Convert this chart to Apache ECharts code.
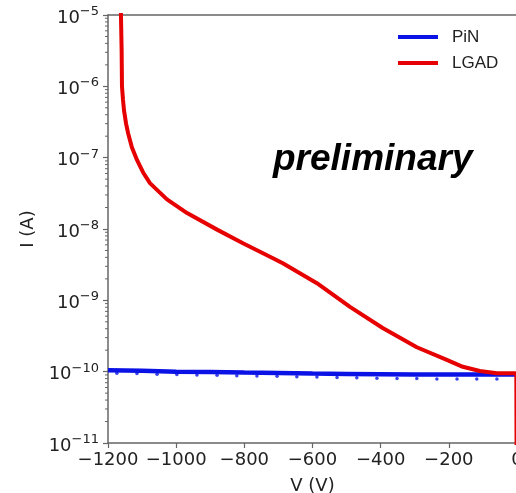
<!DOCTYPE html>
<html>
<head>
<meta charset="utf-8">
<script src="https://cdn.jsdelivr.net/npm/echarts@6/dist/echarts.min.js"></script>
<style>html,body{margin:0;padding:0;background:#fff;}#c{width:516px;height:493px;}</style>
</head>
<body>
<div id="c"></div>
<script>
// Data
const seriesNames = ['PiN', 'LGAD'];
const xTicks = [-1200, -1000, -800, -600, -400, -200, 0];
const yDecades = [1e-11, 1e-10, 1e-9, 1e-8, 1e-7, 1e-6, 1e-5];

const pinV = [-1200, -1100, -1000, -900, -800, -700, -600, -500, -400, -300, -200, -100, -2];
const pinI = [1.05e-10, 1.03e-10, 1.0e-10, 9.9e-11, 9.7e-11, 9.6e-11, 9.4e-11, 9.3e-11, 9.2e-11, 9.1e-11, 9.1e-11, 9.1e-11, 9.1e-11];

const pinDotV = [-1174, -1115, -1056, -998, -939, -880, -822, -763, -704, -646, -587, -528, -470, -411, -352, -294, -235, -176, -118, -59];
const pinDotI = [9.5e-11, 9.4e-11, 9.2e-11, 9.1e-11, 9.0e-11, 8.9e-11, 8.8e-11, 8.7e-11, 8.6e-11, 8.5e-11, 8.4e-11, 8.3e-11, 8.2e-11, 8.1e-11, 8.0e-11, 8.0e-11, 7.9e-11, 7.9e-11, 7.9e-11, 7.9e-11];

const lgadV = [-1163, -1162, -1160, -1159, -1156, -1153, -1147, -1141, -1130, -1115, -1097, -1077, -1027, -968, -880, -804, -716, -687, -587, -490, -394, -294, -206, -159, -109, -59, -2, 0];
const lgadI = [3e-5, 1e-5, 3.2e-6, 1e-6, 6.5e-7, 4.6e-7, 3.0e-7, 2.2e-7, 1.4e-7, 9.3e-8, 6.2e-8, 4.4e-8, 2.6e-8, 1.67e-8, 9.8e-9, 6.3e-9, 3.9e-9, 3.3e-9, 1.74e-9, 8.1e-10, 4.1e-10, 2.2e-10, 1.46e-10, 1.17e-10, 1.02e-10, 9.5e-11, 9.5e-11, 1e-13];

const minorTickVals = [];
for (let k = 0; k < yDecades.length - 1; k++) {
  for (let m = 2; m <= 9; m++) minorTickVals.push(m * yDecades[k]);
}

const chart = echarts.init(document.getElementById('c'), null, {renderer: 'canvas'});
const zip = (a, b) => a.map((v, i) => [v, b[i]]);
const axisFont = 'DejaVu Sans';
const spine = {color: '#666', width: 1.5};

chart.setOption({
  animation: false,
  backgroundColor: '#fff',
  grid: {left: 108, top: 15, width: 409, height: 428, show: false, containLabel: false, outerBoundsMode: 'none'},
  legend: {
    data: seriesNames,
    orient: 'vertical', left: 393, top: 22,
    itemWidth: 40, itemHeight: 4, itemGap: 6, icon: 'rect',
    textStyle: {fontSize: 17, fontFamily: 'Liberation Sans', color: '#222', lineHeight: 20, padding: [0, 0, 0, 9]}
  },
  xAxis: [{
    type: 'value', min: xTicks[0], max: xTicks[xTicks.length - 1], interval: 200,
    axisLine: {onZero: false, lineStyle: spine},
    axisTick: {show: true, inside: false, length: 5, lineStyle: {color: '#666', width: 1.2}},
    splitLine: {show: false},
    axisLabel: {fontSize: 18, fontFamily: axisFont, color: '#222', margin: 8, formatter: v => String(v).replace('-', '\u2212')},
    name: 'V (V)', nameLocation: 'middle', nameGap: 34,
    nameTextStyle: {fontSize: 18, fontFamily: axisFont, color: '#222'}
  }, {
    type: 'value', position: 'top', min: xTicks[0], max: xTicks[xTicks.length - 1], interval: 200,
    axisLine: {show: true, onZero: false, lineStyle: spine},
    axisTick: {show: false}, axisLabel: {show: false}, splitLine: {show: false}
  }],
  yAxis: {
    type: 'log', logBase: 10, min: yDecades[0], max: yDecades[yDecades.length - 1], splitNumber: 6,
    position: 'left',
    axisLine: {show: true, onZero: false, lineStyle: spine},
    axisTick: {show: true, inside: false, length: 5, lineStyle: {color: '#666', width: 1.2}},
    splitLine: {show: false},
    axisLabel: {
      margin: 9, color: '#222', padding: [6, 0, 0, 0],
      formatter: v => { const e = Math.round(Math.log10(v)); return '{b|10}{s|\u2212' + Math.abs(e) + '}'; },
      rich: {
        b: {fontSize: 18, fontFamily: axisFont, color: '#222', lineHeight: 26},
        s: {fontSize: 13, fontFamily: axisFont, color: '#222', lineHeight: 14, verticalAlign: 'top'}
      }
    },
    name: 'I (A)', nameLocation: 'middle', nameRotate: 90, nameGap: 70,
    nameTextStyle: {fontSize: 18, fontFamily: axisFont, color: '#222'}
  },
  graphic: [{
    type: 'text', x: 273, y: 160, z: 100,
    style: {text: 'preliminary', font: 'italic bold 37px "Liberation Sans"', fill: '#000', verticalAlign: 'middle', align: 'left'}
  }],
  series: [
    {
      name: 'PiN', type: 'line', data: zip(pinV, pinI), showSymbol: false, symbol: 'none',
      lineStyle: {color: '#0a12e6', width: 4.5}, itemStyle: {color: '#0a12e6'}, z: 2
    },
    {
      name: 'PiN-dots', type: 'scatter', data: zip(pinDotV, pinDotI), symbolSize: 3.5,
      itemStyle: {color: '#0a12e6'}, z: 2, silent: true
    },
    {
      name: 'LGAD', type: 'line', data: zip(lgadV, lgadI), showSymbol: false, symbol: 'none',
      lineStyle: {color: '#e60000', width: 4}, itemStyle: {color: '#e60000'}, z: 3
    },
    {
      name: 'minor', type: 'custom', silent: true, clip: false, z: 5,
      data: minorTickVals,
      renderItem: (params, api) => {
        const p = api.coord([xTicks[0], api.value(0)]);
        return {type: 'line', shape: {x1: p[0] - 3, y1: p[1], x2: p[0], y2: p[1]}, style: {stroke: '#666', lineWidth: 1}};
      },
      encode: {y: 0}
    }
  ]
});
</script>
</body>
</html>
